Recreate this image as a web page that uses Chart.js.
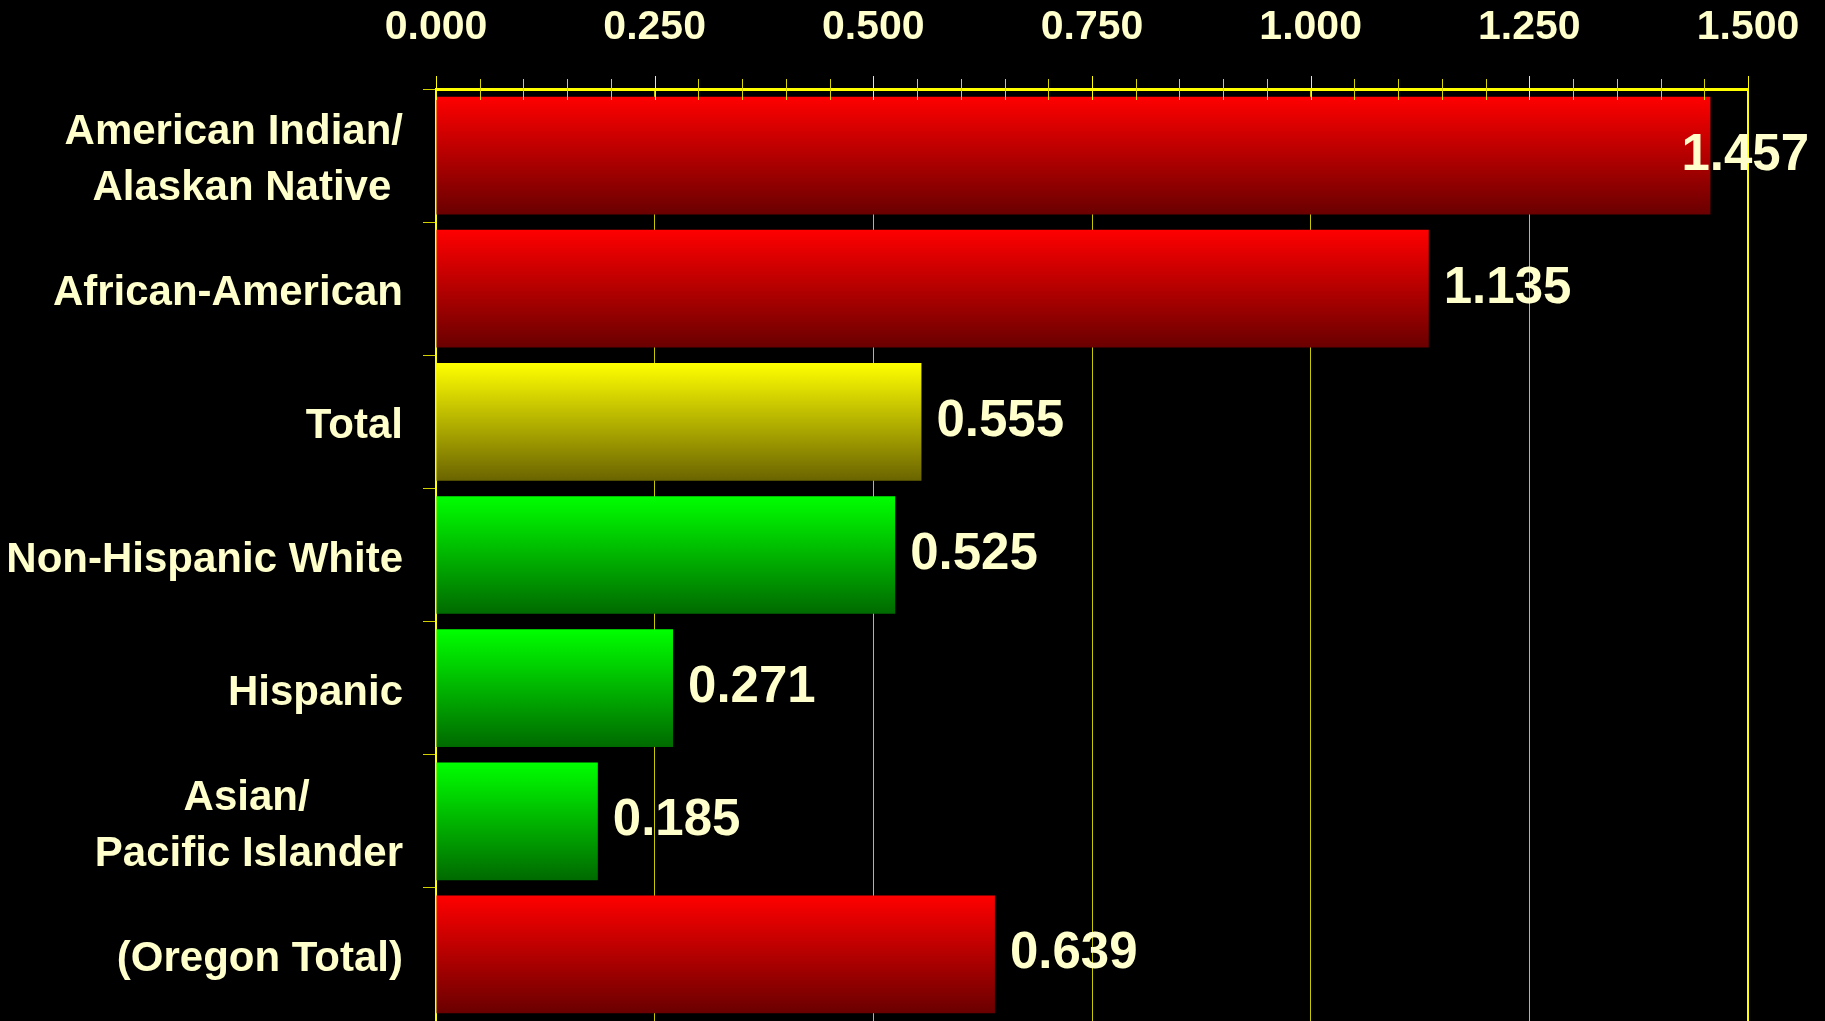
<!DOCTYPE html>
<html>
<head>
<meta charset="utf-8">
<script src="https://cdn.jsdelivr.net/npm/chart.js@4/dist/chart.umd.min.js"></script>
<style>
html,body{margin:0;padding:0;background:#000;overflow:hidden;}
#wrap{width:1825px;height:1021px;position:relative;}
</style>
</head>
<body>
<div id="wrap"><canvas id="c"></canvas></div>
<script>
// ---- data ----
const categories = [
  ["American Indian/", "Alaskan Native "],
  "African-American",
  "Total",
  "Non-Hispanic White",
  "Hispanic",
  ["Asian/        ", "Pacific Islander"],
  "(Oregon Total)"
];
const values = [1.457, 1.135, 0.555, 0.525, 0.271, 0.185, 0.639];
const barColorGroups = ["red", "red", "yellow", "green", "green", "green", "red"];
const xTickValues = [0, 0.25, 0.5, 0.75, 1.0, 1.25, 1.5];
const minorTickStep = 0.05;

// ---- styles ----
const FONT = '"Liberation Sans", Arial, sans-serif';
const TEXT = '#ffffcc';
const gradTop = { red: '#ff0000', yellow: '#ffff00', green: '#00ff00' };
const gradBottom = { red: '#6a0000', yellow: '#6a6400', green: '#006a00' };
const BAR_PCT = 0.884;

function barGradient(ctx) {
  const chart = ctx.chart;
  const key = barColorGroups[ctx.dataIndex] || 'red';
  const ys = chart.scales.y;
  if (!chart.chartArea || !ys || ctx.dataIndex === undefined) return gradTop[key];
  const c = ys.getPixelForValue(ctx.dataIndex);
  const half = (ys.height / categories.length) * BAR_PCT / 2;
  const g = chart.ctx.createLinearGradient(0, c - half, 0, c + half);
  g.addColorStop(0, gradTop[key]);
  g.addColorStop(1, gradBottom[key]);
  return g;
}

const topTicksPlugin = {
  id: 'topTicks',
  afterDatasetsDraw(chart) {
    const xs = chart.scales.x;
    const ctx = chart.ctx;
    const yAxis = chart.chartArea.top;
    ctx.save();
    const n = Math.round((xs.max - xs.min) / minorTickStep);
    for (let i = 0; i <= n; i++) {
      const v = xs.min + i * minorTickStep;
      const px = Math.round(xs.getPixelForValue(v)) + 0.5;
      const major = i % 5 === 0;
      ctx.strokeStyle = major ? '#ffff00' : '#d8d800';
      ctx.lineWidth = 1;
      ctx.beginPath();
      ctx.moveTo(px, yAxis - (major ? 13 : 10));
      ctx.lineTo(px, yAxis + 11);
      ctx.stroke();
    }
    ctx.restore();
  }
};

const valueLabelPlugin = {
  id: 'valueLabels',
  afterDatasetsDraw(chart) {
    const meta = chart.getDatasetMeta(0);
    const ctx = chart.ctx;
    ctx.save();
    ctx.font = 'bold 51px ' + FONT;
    ctx.fillStyle = TEXT;
    ctx.textBaseline = 'middle';
    ctx.textAlign = 'left';
    meta.data.forEach((el, i) => {
      const txt = values[i].toFixed(3);
      const w = ctx.measureText(txt).width;
      let x = el.x + 15;
      if (x + w > chart.width - 16) x = chart.width - 16 - w;
      ctx.fillText(txt, x, el.y);
    });
    ctx.restore();
  }
};

new Chart(document.getElementById('c'), {
  type: 'bar',
  data: {
    labels: categories,
    datasets: [{
      data: values,
      backgroundColor: barGradient,
      borderWidth: 0,
      barPercentage: BAR_PCT,
      categoryPercentage: 1.0
    }]
  },
  options: {
    indexAxis: 'y',
    responsive: true,
    maintainAspectRatio: false,
    animation: false,
    layout: { padding: { left: 0, right: 77, top: 0, bottom: 0 } },
    plugins: { legend: { display: false }, tooltip: { enabled: false } },
    scales: {
      x: {
        position: 'top',
        min: 0,
        max: 1.5,
        afterBuildTicks: (scale) => { scale.ticks = xTickValues.map(v => ({ value: v })); },
        afterFit: (scale) => { scale.height = 89; scale.paddingLeft = 0; scale.paddingRight = 0; },
        ticks: {
          autoSkip: false,
          maxRotation: 0,
          padding: 37,
          color: TEXT,
          font: { family: FONT, size: 41, weight: 'bold' },
          callback: (v) => Number(v).toFixed(3)
        },
        grid: {
          drawTicks: false,
          color: (c) => (c.tick && c.tick.value === 1.5) ? '#ffff00' : '#c8c800',
          lineWidth: (c) => (c.tick && c.tick.value === 1.5) ? 2 : 1
        },
        border: { display: true, color: '#ffff00', width: 3 }
      },
      y: {
        afterFit: (scale) => { scale.width = 436; scale.paddingTop = 0; scale.paddingBottom = 0; },
        ticks: {
          autoSkip: false,
          padding: 20,
          labelOffset: 5,
          color: TEXT,
          font: { family: FONT, size: 42, weight: 'bold', lineHeight: 1.33 }
        },
        grid: {
          drawOnChartArea: false,
          drawTicks: true,
          tickLength: 13,
          offset: true,
          color: '#d0d000',
          lineWidth: 1
        },
        border: { display: true, color: '#ffff00', width: 2 }
      }
    }
  },
  plugins: [topTicksPlugin, valueLabelPlugin]
});
</script>
</body>
</html>
